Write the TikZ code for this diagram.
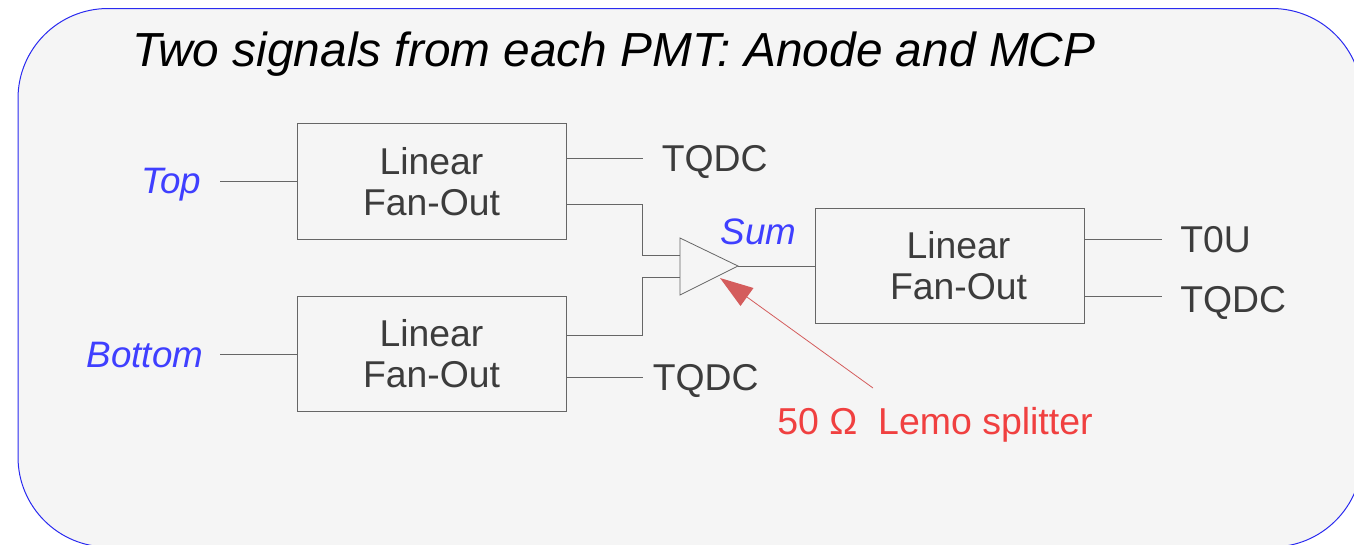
\documentclass[tikz,border=0pt]{standalone}
\usepackage{fontspec}
\setmainfont{Liberation Sans}
\definecolor{panel}{HTML}{F5F5F5}
\definecolor{ink}{HTML}{3C3C3C}
\definecolor{line}{HTML}{666666}
\definecolor{edge}{HTML}{2A2AF0}
\definecolor{bluetxt}{HTML}{3F3FFF}
\definecolor{redtxt}{HTML}{F04040}
\definecolor{arrowred}{HTML}{D45C5C}
\tikzset{
  x=0.75pt,y=-0.75pt,
  fanbox/.style={draw=line,line width=0.75pt,fill=none,minimum width=201.75pt,minimum height=86.5pt,inner sep=0pt},
  fantext/.style={inner sep=0pt,align=center,text=ink,font=\fontsize{28}{30.8}\selectfont},
  wire/.style={draw=line,line width=0.75pt},
  lab/.style={inner sep=0pt,text=ink,font=\fontsize{28}{30}\selectfont,anchor=west},
  sig/.style={inner sep=0pt,text=bluetxt,font=\fontsize{27.6}{30}\selectfont\itshape},
}
\begin{document}
\begin{tikzpicture}
\clip (0,0) rectangle (1354,544);
\draw[draw=edge,fill=panel,line width=0.75pt,rounded corners=67.5pt] (18,8.5) rectangle (1362,547);
\node[inner sep=0pt,anchor=west,font=\fontsize{35.85}{40}\selectfont\itshape,text=black] (title) at (132.5,54.5) {Two signals from each PMT: Anode and MCP};
\node[fanbox] (f1) at (431.5,181.5) {};
\node[fanbox] (f2) at (431.5,354) {};
\node[fanbox] (f3) at (950,266) {};
\node[fantext] (t1) at (431.5,182) {Linear\\Fan-Out};
\node[fantext] (t2) at (431.5,354) {Linear\\Fan-Out};
\node[fantext] (t3) at (958.5,266) {Linear\\Fan-Out};
\node[sig,anchor=east] (top) at (201.5,185) {Top};
\node[sig,anchor=east] (bot) at (203.5,355) {Bottom};
\node[sig,anchor=east] (sum) at (796.5,232) {Sum};
\coordinate (ti) at (220,181.5);
\coordinate (bi) at (220,354);
\draw[wire] (ti) -- (f1.west);
\draw[wire] (bi) -- (f2.west);
\coordinate (a) at (680,238);
\coordinate (b) at (680,295);
\coordinate (c) at (738,266);
\draw[wire,line width=0.6pt] (a) -- (c) -- (b) -- cycle;
\coordinate (ain) at (680,255.5);
\coordinate (bin) at (680,277.5);
\draw[wire] (566,204.5) -| (642.5,255.5) -- (ain);
\draw[wire] (566,335) -| (642.5,277.5) -- (bin);
\draw[wire] (c) -- (f3.west);
\coordinate (q1) at (643,158);
\coordinate (q2) at (643,377.5);
\coordinate (q3) at (1162,239);
\coordinate (q4) at (1162,296.5);
\draw[wire] (566,158) -- (q1);
\draw[wire] (566,377.5) -- (q2);
\draw[wire] (1085,239) -- (q3);
\draw[wire] (1085,296.5) -- (q4);
\node[lab] (l1) at (661.5,162) {TQDC};
\node[lab] (l2) at (652.5,381) {TQDC};
\node[lab] (l3) at (1180,240) {T0U};
\node[lab] (l4) at (1180,303) {TQDC};
\node[inner sep=0pt,anchor=west,text=redtxt,font=\fontsize{28.1}{30}\selectfont] (split) at (777,425) {50 Ω\ \ Lemo splitter};
\coordinate (tail) at (873,388);
\coordinate (tip) at (720,278);
\draw[draw=arrowred,line width=0.6pt] (tail) -- (740,292);
\fill[arrowred] (tip) -- (753.5,288) -- (740.5,306) -- cycle;
\end{tikzpicture}
\end{document}
